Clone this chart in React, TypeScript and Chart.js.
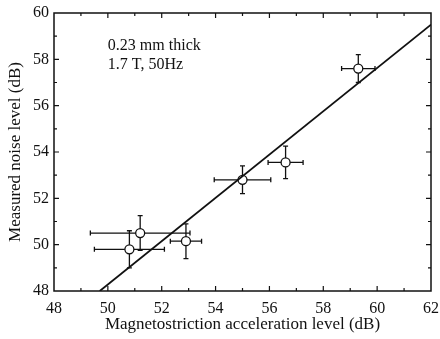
import React, { useEffect, useRef } from "react";
import { Chart, registerables } from "chart.js";

Chart.register(...registerables);

// Measured points: magnetostriction acceleration level vs. measured noise level (dB)
const accelLevel = [50.8, 51.2, 52.9, 55.0, 56.6, 59.3];
const noiseLevel = [49.8, 50.5, 50.15, 52.8, 53.55, 57.6];
const accelErr = [1.3, 1.85, 0.58, 1.05, 0.65, 0.62];
const noiseErr = [0.8, 0.75, 0.75, 0.6, 0.7, 0.6];

// Regression line end points
const fitX = [49.7, 62];
const fitY = [48, 59.5];

// Axis ranges
const xRange = [48, 62];
const yRange = [48, 60];

const noteLines = ["0.23 mm thick", "1.7 T, 50Hz"];

const SERIF = "'Liberation Serif', 'Times New Roman', 'DejaVu Serif', serif";
const INK = "#111";

const errorBars = {
  id: "errorBars",
  beforeDatasetsDraw(chart: any) {
    const { ctx, scales } = chart;
    const x = scales.x;
    const y = scales.y;
    ctx.save();
    ctx.strokeStyle = INK;
    ctx.lineWidth = 1.3;
    const cap = 2.5;
    accelLevel.forEach((xv, i) => {
      const yv = noiseLevel[i];
      const cx = x.getPixelForValue(xv);
      const cy = y.getPixelForValue(yv);
      const x0 = x.getPixelForValue(xv - accelErr[i]);
      const x1 = x.getPixelForValue(xv + accelErr[i]);
      const y0 = y.getPixelForValue(yv - noiseErr[i]);
      const y1 = y.getPixelForValue(yv + noiseErr[i]);
      ctx.beginPath();
      ctx.moveTo(x0, cy);
      ctx.lineTo(x1, cy);
      ctx.moveTo(cx, y0);
      ctx.lineTo(cx, y1);
      ctx.moveTo(x0, cy - cap);
      ctx.lineTo(x0, cy + cap);
      ctx.moveTo(x1, cy - cap);
      ctx.lineTo(x1, cy + cap);
      ctx.moveTo(cx - cap, y0);
      ctx.lineTo(cx + cap, y0);
      ctx.moveTo(cx - cap, y1);
      ctx.lineTo(cx + cap, y1);
      ctx.stroke();
    });
    ctx.restore();
  },
};

const frameAndTicks = {
  id: "frameAndTicks",
  afterDraw(chart: any) {
    const { ctx, chartArea, scales } = chart;
    const x = scales.x;
    const y = scales.y;
    const { left, right, top, bottom } = chartArea;
    ctx.save();
    ctx.strokeStyle = INK;
    ctx.lineWidth = 1.5;
    ctx.strokeRect(left, top, right - left, bottom - top);

    ctx.lineWidth = 1.2;
    ctx.beginPath();
    for (let v = xRange[0] + 1; v < xRange[1]; v++) {
      const len = v % 2 === 0 ? 5 : 3;
      const px = x.getPixelForValue(v);
      ctx.moveTo(px, bottom);
      ctx.lineTo(px, bottom - len);
      ctx.moveTo(px, top);
      ctx.lineTo(px, top + len);
    }
    for (let v = yRange[0] + 1; v < yRange[1]; v++) {
      const len = v % 2 === 0 ? 5 : 3;
      const py = y.getPixelForValue(v);
      ctx.moveTo(left, py);
      ctx.lineTo(left + len, py);
      ctx.moveTo(right, py);
      ctx.lineTo(right - len, py);
    }
    ctx.stroke();

    // Sample description
    ctx.fillStyle = INK;
    ctx.font = `16px ${SERIF}`;
    ctx.textAlign = "left";
    ctx.textBaseline = "middle";
    const tx = x.getPixelForValue(50.0);
    ctx.fillText(noteLines[0], tx, y.getPixelForValue(58.6));
    ctx.fillText(noteLines[1], tx, y.getPixelForValue(57.75));
    ctx.restore();
  },
};

export default function App() {
  const canvasRef = useRef<HTMLCanvasElement | null>(null);

  useEffect(() => {
    document.body.style.margin = "0";
    const canvas = canvasRef.current;
    if (!canvas) return;
    const chart = new Chart(canvas, {
      type: "scatter",
      data: {
        datasets: [
          {
            type: "line",
            data: fitX.map((v, i) => ({ x: v, y: fitY[i] })),
            borderColor: INK,
            borderWidth: 1.8,
            pointRadius: 0,
            fill: false,
          },
          {
            type: "scatter",
            data: accelLevel.map((v, i) => ({ x: v, y: noiseLevel[i] })),
            backgroundColor: "#fff",
            borderColor: INK,
            borderWidth: 1.3,
            pointRadius: 4.5,
          },
        ],
      },
      options: {
        animation: false,
        responsive: false,
        devicePixelRatio: 1,
        layout: { padding: { top: 13, right: 9, left: 0, bottom: 0 } },
        plugins: { legend: { display: false }, tooltip: { enabled: false } },
        scales: {
          x: {
            type: "linear",
            min: xRange[0],
            max: xRange[1],
            grid: { display: false, drawTicks: false },
            border: { display: false },
            ticks: {
              stepSize: 2,
              autoSkip: false,
              maxRotation: 0,
              padding: 8,
              color: INK,
              font: { family: SERIF, size: 16 },
            },
            title: {
              display: true,
              text: "Magnetostriction acceleration level (dB)",
              color: INK,
              font: { family: SERIF, size: 17 },
              padding: { top: 0, bottom: 4 },
            },
            afterFit(scale: any) {
              scale.height = 48;
              scale.paddingLeft = 0;
              scale.paddingRight = 0;
            },
          },
          y: {
            type: "linear",
            min: yRange[0],
            max: yRange[1],
            grid: { display: false, drawTicks: false },
            border: { display: false },
            ticks: {
              stepSize: 2,
              autoSkip: false,
              padding: 5,
              color: INK,
              font: { family: SERIF, size: 16 },
            },
            title: {
              display: true,
              text: "Measured noise level (dB)",
              color: INK,
              font: { family: SERIF, size: 17 },
              padding: { top: 5, bottom: 0 },
            },
            afterFit(scale: any) {
              scale.width = 54;
              scale.paddingTop = 0;
              scale.paddingBottom = 0;
            },
          },
        },
      },
      plugins: [errorBars, frameAndTicks],
    });
    return () => chart.destroy();
  }, []);

  return <canvas ref={canvasRef} width={440} height={339} style={{ display: "block" }} />;
}
